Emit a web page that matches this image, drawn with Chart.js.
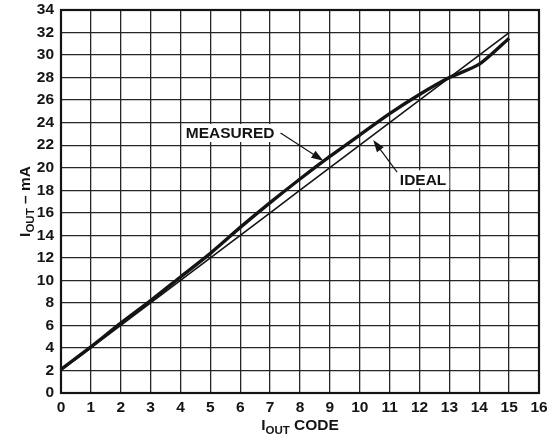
<!DOCTYPE html>
<html>
<head>
<meta charset="utf-8">
<script src="https://cdn.jsdelivr.net/npm/chart.js@4"></script>
<style>
  html, body { margin: 0; padding: 0; background: #fff; }
  #wrap { width: 558px; height: 442px; }
</style>
</head>
<body>
<div id="wrap"><canvas id="chart"></canvas></div>
<script>
// IOUT code vs current
const codes = [0, 1, 2, 3, 4, 5, 6, 7, 8, 9, 10, 11, 12, 13, 14, 15];
const measured = [2.1, 4.1, 6.2, 8.2, 10.3, 12.4, 14.7, 16.9, 19.0, 21.0, 22.9, 24.8, 26.5, 28.0, 29.2, 31.5];
const ideal = [2, 4, 6, 8, 10, 12, 14, 16, 18, 20, 22, 24, 26, 28, 30, 32];

// callouts: label position, arrow start, arrow tip (data coords)
const callouts = [
    { text: 'MEASURED', at: [5.66, 23.08], from: [7.35, 23.08], to: [8.78, 20.62] },
    { text: 'IDEAL', at: [12.12, 18.97], from: [11.25, 19.6], to: [10.45, 22.46] }
];

const INK = '#141414';
const FONT = '"Liberation Sans", Arial, sans-serif';

function drawArrow(ctx, x1, y1, x2, y2) {
    const ang = Math.atan2(y2 - y1, x2 - x1);
    const len = 12, half = 4.2;
    ctx.beginPath();
    ctx.moveTo(x1, y1);
    ctx.lineTo(x2 - Math.cos(ang) * len * 0.8, y2 - Math.sin(ang) * len * 0.8);
    ctx.lineWidth = 1.2;
    ctx.stroke();
    ctx.beginPath();
    ctx.moveTo(x2, y2);
    ctx.lineTo(x2 - Math.cos(ang) * len - Math.sin(ang) * half, y2 - Math.sin(ang) * len + Math.cos(ang) * half);
    ctx.lineTo(x2 - Math.cos(ang) * len + Math.sin(ang) * half, y2 - Math.sin(ang) * len - Math.cos(ang) * half);
    ctx.closePath();
    ctx.fill();
}

// draw "I" with subscript "OUT" followed by rest, starting at x (left aligned)
function subText(ctx, x, y, rest) {
    ctx.textAlign = 'left';
    ctx.textBaseline = 'alphabetic';
    ctx.font = 'bold 15.5px ' + FONT;
    ctx.fillText('I', x, y);
    x += ctx.measureText('I').width;
    ctx.font = 'bold 11.5px ' + FONT;
    ctx.fillText('OUT', x, y + 3.5);
    x += ctx.measureText('OUT').width;
    ctx.font = 'bold 15.5px ' + FONT;
    ctx.fillText(rest, x, y);
}

function subWidth(ctx, rest) {
    ctx.font = 'bold 15.5px ' + FONT;
    let w = ctx.measureText('I').width + ctx.measureText(rest).width;
    ctx.font = 'bold 11.5px ' + FONT;
    return w + ctx.measureText('OUT').width;
}

const decorPlugin = {
    id: 'decor',
    afterDatasetsDraw(chart) {
        const ctx = chart.ctx;
        const xs = chart.scales.x, ys = chart.scales.y;
        const area = chart.chartArea;
        ctx.save();
        ctx.fillStyle = INK;
        ctx.strokeStyle = INK;

        // callouts
        callouts.forEach(c => {
            ctx.font = 'bold 15.5px ' + FONT;
            const tx = xs.getPixelForValue(c.at[0]);
            const ty = ys.getPixelForValue(c.at[1]);
            const w = ctx.measureText(c.text).width;
            ctx.fillStyle = '#fff';
            ctx.fillRect(tx - w / 2 - 3, ty - 9, w + 6, 18);
            ctx.fillStyle = INK;
            ctx.textAlign = 'center';
            ctx.textBaseline = 'middle';
            ctx.fillText(c.text, tx, ty + 1);
            drawArrow(ctx,
                xs.getPixelForValue(c.from[0]), ys.getPixelForValue(c.from[1]),
                xs.getPixelForValue(c.to[0]), ys.getPixelForValue(c.to[1]));
        });

        // frame
        ctx.lineWidth = 2.2;
        ctx.strokeRect(area.left, area.top, area.right - area.left, area.bottom - area.top);

        // x title
        const xw = subWidth(ctx, ' CODE');
        subText(ctx, (area.left + area.right) / 2 - xw / 2, 430, ' CODE');

        // y title
        ctx.translate(30, (area.top + area.bottom) / 2);
        ctx.rotate(-Math.PI / 2);
        const yw = subWidth(ctx, ' \u2013 mA');
        subText(ctx, -yw / 2, 0, ' \u2013 mA');
        ctx.restore();
    }
};

new Chart(document.getElementById('chart'), {
    type: 'line',
    data: {
        datasets: [
            {
                label: 'MEASURED',
                data: codes.map((c, i) => ({ x: c, y: measured[i] })),
                borderColor: INK,
                borderWidth: 3.4,
                pointRadius: 0,
                tension: 0.25
            },
            {
                label: 'IDEAL',
                data: codes.map((c, i) => ({ x: c, y: ideal[i] })),
                borderColor: INK,
                borderWidth: 1.6,
                pointRadius: 0,
                tension: 0
            }
        ]
    },
    options: {
        responsive: true,
        maintainAspectRatio: false,
        animation: false,
        layout: { padding: { top: 10, right: 19, left: 0, bottom: 0 } },
        plugins: {
            legend: { display: false },
            tooltip: { enabled: false }
        },
        scales: {
            x: {
                type: 'linear',
                min: 0,
                max: 16,
                afterFit: s => { s.height = 49; },
                grid: { color: '#262626', lineWidth: 1.3, drawTicks: false },
                border: { display: false },
                ticks: {
                    stepSize: 1,
                    padding: 5,
                    color: INK,
                    font: { family: FONT, size: 15.5, weight: 'bold' }
                }
            },
            y: {
                min: 0,
                max: 34,
                afterFit: s => { s.width = 61; s.paddingTop = 0; s.paddingBottom = 0; },
                grid: { color: '#262626', lineWidth: 1.3, drawTicks: false },
                border: { display: false },
                ticks: {
                    stepSize: 2,
                    padding: 7,
                    color: INK,
                    font: { family: FONT, size: 15.5, weight: 'bold' }
                }
            }
        }
    },
    plugins: [decorPlugin]
});
</script>
</body>
</html>
